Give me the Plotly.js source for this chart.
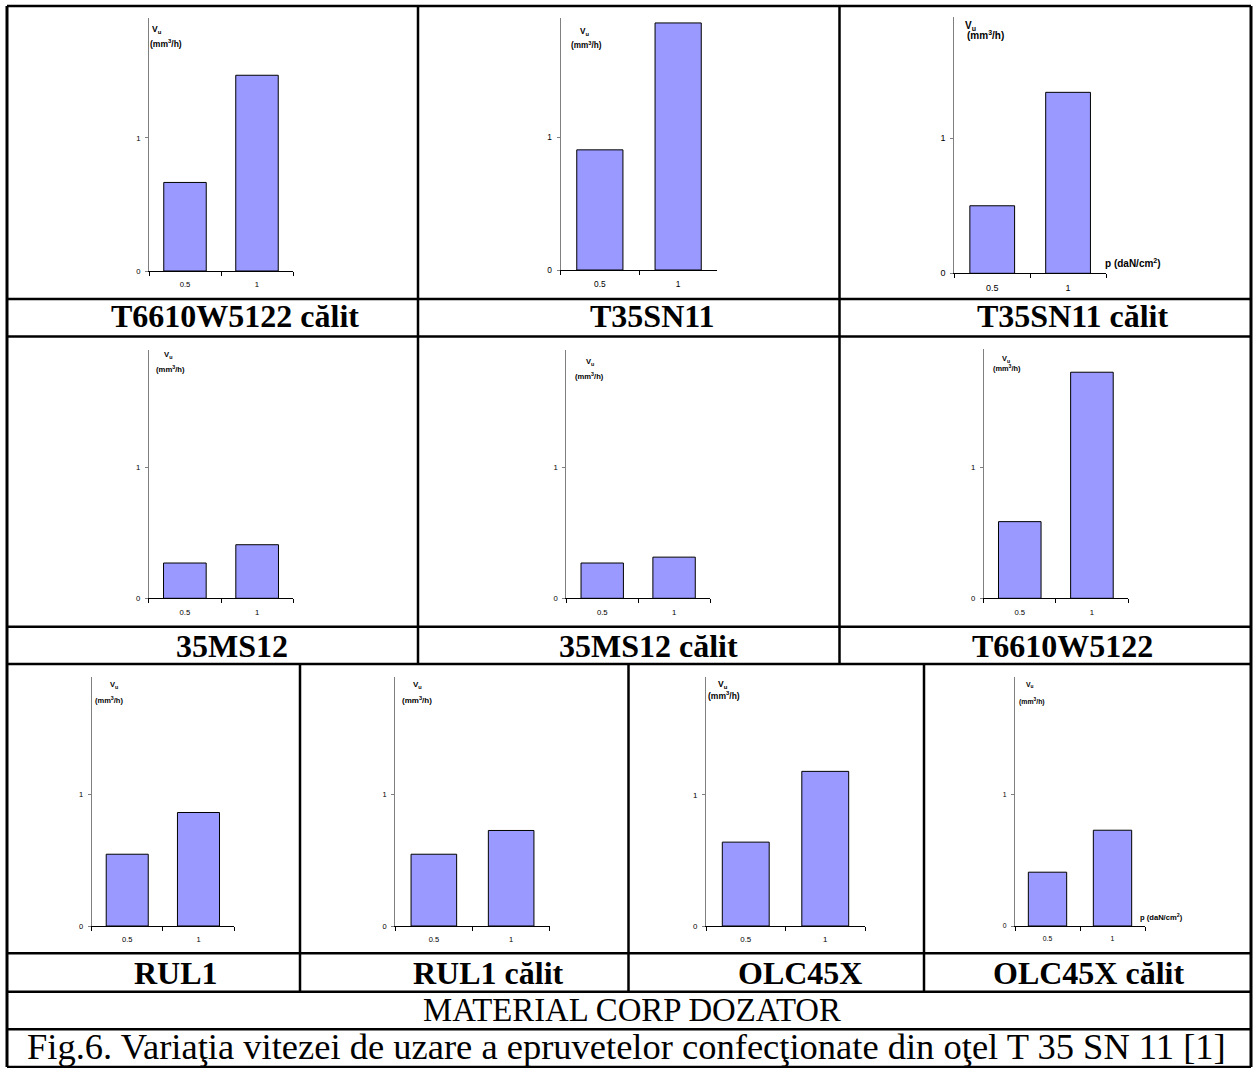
<!DOCTYPE html>
<html>
<head>
<meta charset="utf-8">
<script src="https://cdn.plot.ly/plotly-3.0.1.min.js"></script>
<style>
  html, body { margin: 0; padding: 0; background: #ffffff; }
  #chart { width: 1253px; height: 1068px; }
</style>
</head>
<body>
<div id="chart"></div>
<script>
// ---------------- DATA ----------------
const materials = [
  "T6610W5122 călit", "T35SN11", "T35SN11 călit",
  "35MS12", "35MS12 călit", "T6610W5122",
  "RUL1", "RUL1 călit", "OLC45X", "OLC45X călit"
];
const pressures = ["0.5", "1"];
const vuAtP05 = [0.665, 0.907, 0.50, 0.27, 0.27, 0.585, 0.547, 0.547, 0.64, 0.41];
const vuAtP1  = [1.47, 1.865, 1.34, 0.41, 0.315, 1.725, 0.865, 0.728, 1.18, 0.73];
const yTickVals = [0, 1];
const yTickText = ["0", "1"];
const yLabelLine1 = "V<sub>u</sub>";
const yLabelLine2 = "(mm<sup>3</sup>/h)";
const xLabel = "p (daN/cm<sup>2</sup>)";
const footerMaterial = "MATERIAL CORP DOZATOR";
const figCaption = "Fig.6. Variaţia vitezei de uzare a epruvetelor confecţionate din oţel T 35 SN 11 [1]";

// ---------------- LAYOUT GEOMETRY (pixels) ----------------
const W = 1253, H = 1068;
const px = x => x / W;
const py = y => 1 - y / H;

const boxes = [
  {x0:149,   x1:293,   top:18,    zero:271,   tf:7.7},
  {x0:560.7, x1:717.3, top:18.3,  zero:270,   tf:8.4},
  {x0:954.3, x1:1106,  top:16.7,  zero:273.3, tf:9},
  {x0:148.7, x1:293.3, top:350,   zero:598.3, tf:7.7},
  {x0:566.3, x1:710,   top:350,   zero:598.3, tf:7.7},
  {x0:983.7, x1:1128,  top:349.3, zero:598.3, tf:7.7},
  {x0:91.6,  x1:234.1, top:676.7, zero:926,   tf:7.5},
  {x0:395.2, x1:549.8, top:676.7, zero:926,   tf:7.5},
  {x0:706,   x1:865,   top:677,   zero:926,   tf:7.9},
  {x0:1015,  x1:1145,  top:676.7, zero:926,   tf:6.8}
];
const vLab = [
  {vx:157,    vy:29.5,  mx:166,    my:43.5,  fs:8.5},
  {vx:584,    vy:31.7,  mx:586,    my:45,    fs:8.2},
  {vx:970.5,  vy:25.7,  mx:985,    my:35,    fs:10},
  {vx:168.3,  vy:355,   mx:170,    my:369.3, fs:7.7},
  {vx:589.7,  vy:362.3, mx:589.7,  my:376,   fs:7.6},
  {vx:1006.3, vy:359.3, mx:1007,   my:368.3, fs:7.4},
  {vx:113.7,  vy:685,   mx:109.2,  my:700,   fs:7.5},
  {vx:417.3,  vy:685,   mx:416.5,  my:700,   fs:8},
  {vx:723.3,  vy:684,   mx:724,    my:695,   fs:8.5},
  {vx:1030,   vy:685,   mx:1031.7, my:701.7, fs:6.9}
];
const pLab = { 2: {x:1103.3, y:263.3, fs:10}, 9: {x:1138.3, y:916.7, fs:7.6} };
const namePos = [
  {x:235, y:316}, {x:651.8, y:316}, {x:1072.5, y:316},
  {x:232, y:645.7}, {x:648.5, y:645.7}, {x:1062, y:645.7},
  {x:175.7, y:972.5}, {x:488, y:972.5}, {x:800, y:972.5}, {x:1088, y:972.5}
];

const SANS = "Liberation Sans, Arial, sans-serif";
const SERIF = "Liberation Serif, Times New Roman, serif";

const traces = [];
const layout = {
  width: W, height: H,
  margin: {l:0, r:0, t:0, b:0, pad:0},
  paper_bgcolor: "#ffffff", plot_bgcolor: "rgba(0,0,0,0)",
  showlegend: false,
  bargap: 0.41,
  font: {family: SANS, color: "#000"},
  annotations: [],
  shapes: []
};

materials.forEach((m, i) => {
  const k = i + 1;
  const xa = "x" + (k === 1 ? "" : k), ya = "y" + (k === 1 ? "" : k);
  traces.push({
    type: "bar", x: pressures, y: [vuAtP05[i], vuAtP1[i]],
    xaxis: xa, yaxis: ya,
    marker: {color: "#9999FF", line: {color: "#000000", width: 1}},
    hoverinfo: "x+y"
  });
  const b = boxes[i];
  layout["xaxis" + (k === 1 ? "" : k)] = {
    domain: [px(b.x0), px(b.x1)], anchor: ya,
    type: "category", range: [-0.5, 1.5],
    showline: true, linecolor: "#000", linewidth: 1,
    ticks: "outside", tickson: "boundaries", ticklen: 4, tickcolor: "#000", tickwidth: 1,
    ticklabelstandoff: 6,
    showgrid: false, zeroline: false,
    tickfont: {family: SANS, size: b.tf, color: "#000"},
    fixedrange: true
  };
  layout["yaxis" + (k === 1 ? "" : k)] = {
    domain: [py(b.zero), py(b.top)], anchor: xa,
    range: [0, 1.9],
    showline: true, linecolor: "#808080", linewidth: 1,
    ticks: "outside", ticklen: 3, tickcolor: "#808080", tickwidth: 1,
    ticklabelstandoff: 3,
    tickvals: yTickVals, ticktext: yTickText,
    showgrid: false, zeroline: false,
    tickfont: {family: SANS, size: b.tf, color: "#000"},
    fixedrange: true
  };
  const v = vLab[i];
  layout.annotations.push({
    xref: "paper", yref: "paper", x: px(v.vx), y: py(v.vy),
    xanchor: "center", yanchor: "middle", showarrow: false,
    text: yLabelLine1, font: {family: SANS, size: v.fs, color: "#000", weight: "bold"}
  });
  layout.annotations.push({
    xref: "paper", yref: "paper", x: px(v.mx), y: py(v.my),
    xanchor: "center", yanchor: "middle", showarrow: false,
    text: yLabelLine2, font: {family: SANS, size: v.fs, color: "#000", weight: "bold"}
  });
  if (pLab[i]) {
    const p = pLab[i];
    layout.annotations.push({
      xref: "paper", yref: "paper", x: px(p.x), y: py(p.y),
      xanchor: "left", yanchor: "middle", showarrow: false,
      text: xLabel, font: {family: SANS, size: p.fs, color: "#000", weight: "bold"}
    });
  }
  const n = namePos[i];
  layout.annotations.push({
    xref: "paper", yref: "paper", x: px(n.x), y: py(n.y),
    xanchor: "center", yanchor: "middle", showarrow: false,
    text: m, font: {family: SERIF, size: 32, color: "#000", weight: "bold"}
  });
});

layout.annotations.push({
  xref: "paper", yref: "paper", x: px(631.5), y: py(1010),
  xanchor: "center", yanchor: "middle", showarrow: false,
  text: footerMaterial, font: {family: SERIF, size: 32.8, color: "#000"}
});
layout.annotations.push({
  xref: "paper", yref: "paper", x: px(626.5), y: py(1046),
  xanchor: "center", yanchor: "middle", showarrow: false,
  text: figCaption,
  font: {family: SERIF, size: 36.5, color: "#000"}
});

// table borders
function L(x0, y0, x1, y1, w) {
  layout.shapes.push({
    type: "line", xref: "paper", yref: "paper",
    x0: px(x0), y0: py(y0), x1: px(x1), y1: py(y1),
    line: {color: "#000", width: w || 2.5}
  });
}
const LEFT = 7, RIGHT = 1251, TOP = 6, BOTTOM = 1067;
L(LEFT, TOP, LEFT, BOTTOM, 3);
L(RIGHT, TOP, RIGHT, BOTTOM, 3);
[TOP, 299, 336.5, 626.7, 664, 953.3, 991.7, 1029.3, BOTTOM].forEach(y => L(LEFT, y, RIGHT, y, 2.5));
[418, 839.5].forEach(x => L(x, TOP, x, 664, 2.5));
[300, 628.5, 924].forEach(x => L(x, 664, x, 991.7, 2.5));

Plotly.newPlot("chart", traces, layout, {displayModeBar: false, staticPlot: true});
</script>
</body>
</html>
